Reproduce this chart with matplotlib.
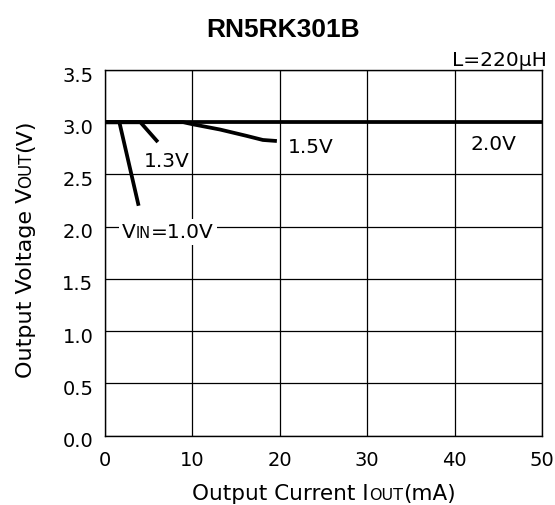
import matplotlib
matplotlib.use('Agg')
import matplotlib.pyplot as plt
import matplotlib.transforms as mtransforms

plt.rcParams['font.family'] = ['DejaVu Sans']

# 读出来的曲线数据 (Iout mA, Vout V)
iout_10 = [0, 1.7, 3.9]
vout_10 = [3.0, 3.0, 2.2]
iout_13 = [0, 4.1, 6.1]
vout_13 = [3.0, 3.0, 2.81]
iout_15 = [0, 9.0, 10.1, 13.2, 16.2, 18.1, 19.7]
vout_15 = [3.0, 3.0, 2.98, 2.93, 2.87, 2.83, 2.82]
iout_20 = [0, 50]
vout_20 = [3.0, 3.0]

x_ticks = [0, 10, 20, 30, 40, 50]
y_ticks = [0.0, 0.5, 1.0, 1.5, 2.0, 2.5, 3.0, 3.5]

W, H = 555, 506
fig = plt.figure(figsize=(W / 100, H / 100), dpi=100)
ax = fig.add_axes([104.5 / W, 1 - 436.5 / H, (542 - 104.5) / W, (436.5 - 71) / H])

for xs, ys in [(iout_10, vout_10), (iout_13, vout_13), (iout_15, vout_15), (iout_20, vout_20)]:
    ax.plot(xs, ys, color='black', lw=2.7, solid_capstyle='butt', zorder=3)

ax.set_xlim(0, 50)
ax.set_ylim(0, 3.5)
ax.set_xticks(x_ticks)
ax.set_yticks(y_ticks)
ax.set_yticklabels([f'{v:.1f}' for v in y_ticks])
ax.grid(True, color='black', lw=0.9)
ax.set_axisbelow(True)
ax.tick_params(length=0, labelsize=14)
ax.tick_params(axis='x', pad=10.5)
ax.tick_params(axis='y', pad=8)
for s in ax.spines.values():
    s.set_linewidth(1.0)

# y 刻度文字稍微往下移
shift = mtransforms.ScaledTranslation(0, -3 / 100, fig.dpi_scale_trans)
for lab in ax.get_yticklabels():
    lab.set_transform(lab.get_transform() + shift)

r = fig.canvas.get_renderer()


def mixed_text(x_px, y_px, parts, ha='left', rotation=0, bg=None):
    # 大小字号拼接的文字, 坐标是像素 (y 从上往下)
    widths = []
    for s, size in parts:
        t = fig.text(0, 0, s, fontsize=size)
        widths.append(t.get_window_extent(r).width)
        t.remove()
    total = sum(widths)
    if ha == 'center':
        start = -total / 2
    elif ha == 'right':
        start = -total
    else:
        start = 0
    # 先画白底, 再画文字, 免得白底盖住前一段
    layers = [dict(color='white', bbox=bg, zorder=4)] if bg else []
    layers.append(dict(zorder=5))
    for kw in layers:
        pos = start
        for (s, size), w in zip(parts, widths):
            if rotation == 90:
                fx, fy = x_px / W, 1 - (y_px - pos) / H
            else:
                fx, fy = (x_px + pos) / W, 1 - y_px / H
            fig.text(fx, fy, s, fontsize=size, rotation=rotation, rotation_mode='anchor',
                     ha='left', va='baseline', **kw)
            pos += w


def data_px(x, y):
    px, py = ax.transData.transform((x, y))
    return px, H - py


# 标题和轴标签
fig.text(283 / W, 1 - 36.7 / H, 'RN5RK301B', fontsize=19, fontweight='bold',
         family='Liberation Sans', ha='center', va='baseline')
fig.text(547 / W, 1 - 66 / H, 'L=220\u00b5H', fontsize=14.5, ha='right', va='baseline')
mixed_text(324, 500, [('Output Current I', 15.5), ('OUT', 11.5), ('(mA)', 15.5)], ha='center')
mixed_text(31.5, 249, [('Output Voltage V', 16), ('OUT', 12), ('(V)', 16)],
           ha='center', rotation=90)

# 曲线标注
white = dict(facecolor='white', edgecolor='none', pad=2.5)
mixed_text(*data_px(2.0, 1.90), [('V', 14.5), ('IN', 10.5), ('=1.0V', 14.5)], bg=white)
mixed_text(*data_px(4.5, 2.58), [('1.3V', 14.5)])
mixed_text(*data_px(20.9, 2.71), [('1.5V', 14.5)])
mixed_text(*data_px(41.8, 2.74), [('2.0V', 14.5)])

fig.savefig('out.png', dpi=100)
